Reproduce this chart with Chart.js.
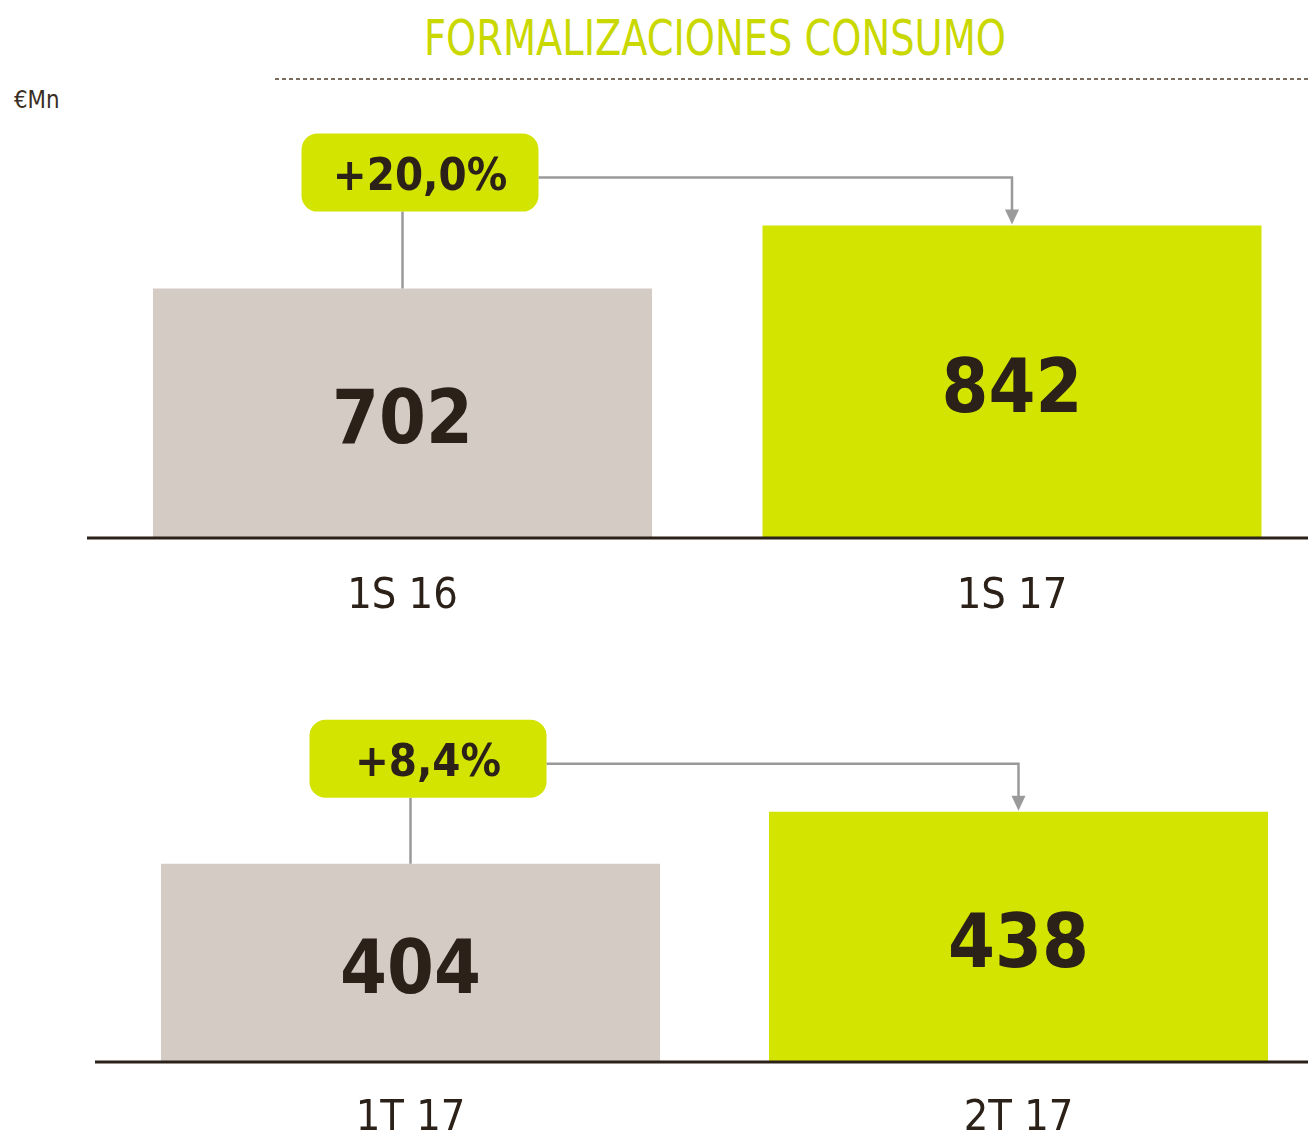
<!DOCTYPE html>
<html>
<head>
<meta charset="utf-8">
<script src="https://cdn.jsdelivr.net/npm/chart.js@4/dist/chart.umd.min.js"></script>
<style>
  html, body { margin: 0; padding: 0; background: #fff; overflow: hidden; width: 1308px; height: 1135px; }
  .narrow { font-family: 'DejaVu Sans Condensed', 'DejaVu Sans', sans-serif; }
  #title { position: absolute; left: 0; width: 1430px; top: 10px; text-align: center; color: #c9d800; font-size: 50px; line-height: 56px; transform: scaleX(0.853); transform-origin: 715px 0; }
  #dash { position: absolute; left: 275px; top: 78px; width: 1033px; height: 2px;
          background: repeating-linear-gradient(to right, #7a6c5e 0 4px, transparent 4px 7px); }
  #unit { position: absolute; left: 14px; top: 85px; color: #3a2e24; font-size: 25px; transform: scaleX(0.95); transform-origin: 0 0; }
  canvas { position: absolute; left: 0; }
  #top { top: 0; }
  #bottom { top: 640px; }
</style>
</head>
<body>
<div id="title" class="narrow">FORMALIZACIONES CONSUMO</div>
<div id="dash"></div>
<div id="unit" class="narrow">€Mn</div>
<canvas id="top" width="1330" height="637"></canvas>
<canvas id="bottom" width="1330" height="495"></canvas>
<script>
// data
var topLabels = ['1S 16', '1S 17'];
var topValues = [702, 842];
var bottomLabels = ['1T 17', '2T 17'];
var bottomValues = [404, 438];
var changeLabels = ['+20,0%', '+8,4%'];

var FONT = "'DejaVu Sans Condensed', 'DejaVu Sans', sans-serif";
var GREY = '#d5cbc5';
var LIME = '#d2e400';
var DARK = '#2b2118';
var LINE = '#9a9a9a';

var calloutPlugin = {
  id: 'callout',
  afterDatasetsDraw: function(chart, args, opts) {
    var ctx = chart.ctx;
    var bars = chart.getDatasetMeta(0).data;
    var b1 = bars[0], b2 = bars[1];
    var area = chart.chartArea;

    // baseline
    ctx.save();
    ctx.strokeStyle = DARK;
    ctx.lineWidth = 3;
    ctx.beginPath();
    ctx.moveTo(opts.lineStart, area.bottom + 1);
    ctx.lineTo(1308, area.bottom + 1);
    ctx.stroke();

    // value labels, centred in the visible bar
    ctx.fillStyle = DARK;
    ctx.font = 'bold 75px ' + FONT;
    ctx.textAlign = 'center';
    ctx.textBaseline = 'middle';
    bars.forEach(function(b, i) {
      ctx.fillText(chart.data.datasets[0].data[i], b.x, (b.y + area.bottom) / 2 + 11);
    });

    // pill + connectors
    var pw = 237, ph = 78;
    var px = b1.x - 101;
    var pb = b2.y - 14;
    var pt = pb - ph;
    var pm = pt + ph / 2;
    var ly = pm + 5;

    ctx.strokeStyle = LINE;
    ctx.lineWidth = 2.5;
    ctx.beginPath();
    ctx.moveTo(b1.x, pb);
    ctx.lineTo(b1.x, b1.y);
    ctx.moveTo(px + pw, ly);
    ctx.lineTo(b2.x, ly);
    ctx.lineTo(b2.x, b2.y - 14);
    ctx.stroke();
    ctx.fillStyle = LINE;
    ctx.beginPath();
    ctx.moveTo(b2.x - 7, b2.y - 16);
    ctx.lineTo(b2.x + 7, b2.y - 16);
    ctx.lineTo(b2.x, b2.y - 1);
    ctx.closePath();
    ctx.fill();

    ctx.fillStyle = LIME;
    ctx.beginPath();
    ctx.roundRect(px, pt, pw, ph, 16);
    ctx.fill();
    ctx.fillStyle = DARK;
    ctx.font = 'bold 45px ' + FONT;
    ctx.fillText(opts.text, px + pw / 2, pm + 6);
    ctx.restore();
  }
};

function makeChart(id, labels, values, yMin, yMax, pad, barPct, lineStart, axisH, tickPad, change) {
  return new Chart(document.getElementById(id).getContext('2d'), {
    type: 'bar',
    data: {
      labels: labels,
      datasets: [{
        data: values,
        backgroundColor: [GREY, LIME],
        borderWidth: 0,
        barPercentage: barPct,
        categoryPercentage: 1
      }]
    },
    options: {
      responsive: false,
      animation: false,
      layout: { padding: pad },
      plugins: {
        legend: { display: false },
        tooltip: { enabled: false },
        callout: { text: change, lineStart: lineStart }
      },
      scales: {
        x: {
          grid: { display: false },
          border: { display: false },
          ticks: { color: DARK, font: { family: FONT, size: 43 }, padding: tickPad },
          afterFit: function(s) { s.height = axisH; }
        },
        y: { display: false, min: yMin, max: yMax }
      }
    },
    plugins: [calloutPlugin]
  });
}

makeChart('top', topLabels, topValues, 150, 1000,
  { top: 154.5, left: 97.75, right: 13.25, bottom: 0 }, 0.8187, 87, 100, 26, changeLabels[0]);
makeChart('bottom', bottomLabels, bottomValues, 275, 540,
  { top: 15.8, left: 106.5, right: 7.5, bottom: 0 }, 0.8207, 95, 74, 24, changeLabels[1]);
</script>
</body>
</html>
